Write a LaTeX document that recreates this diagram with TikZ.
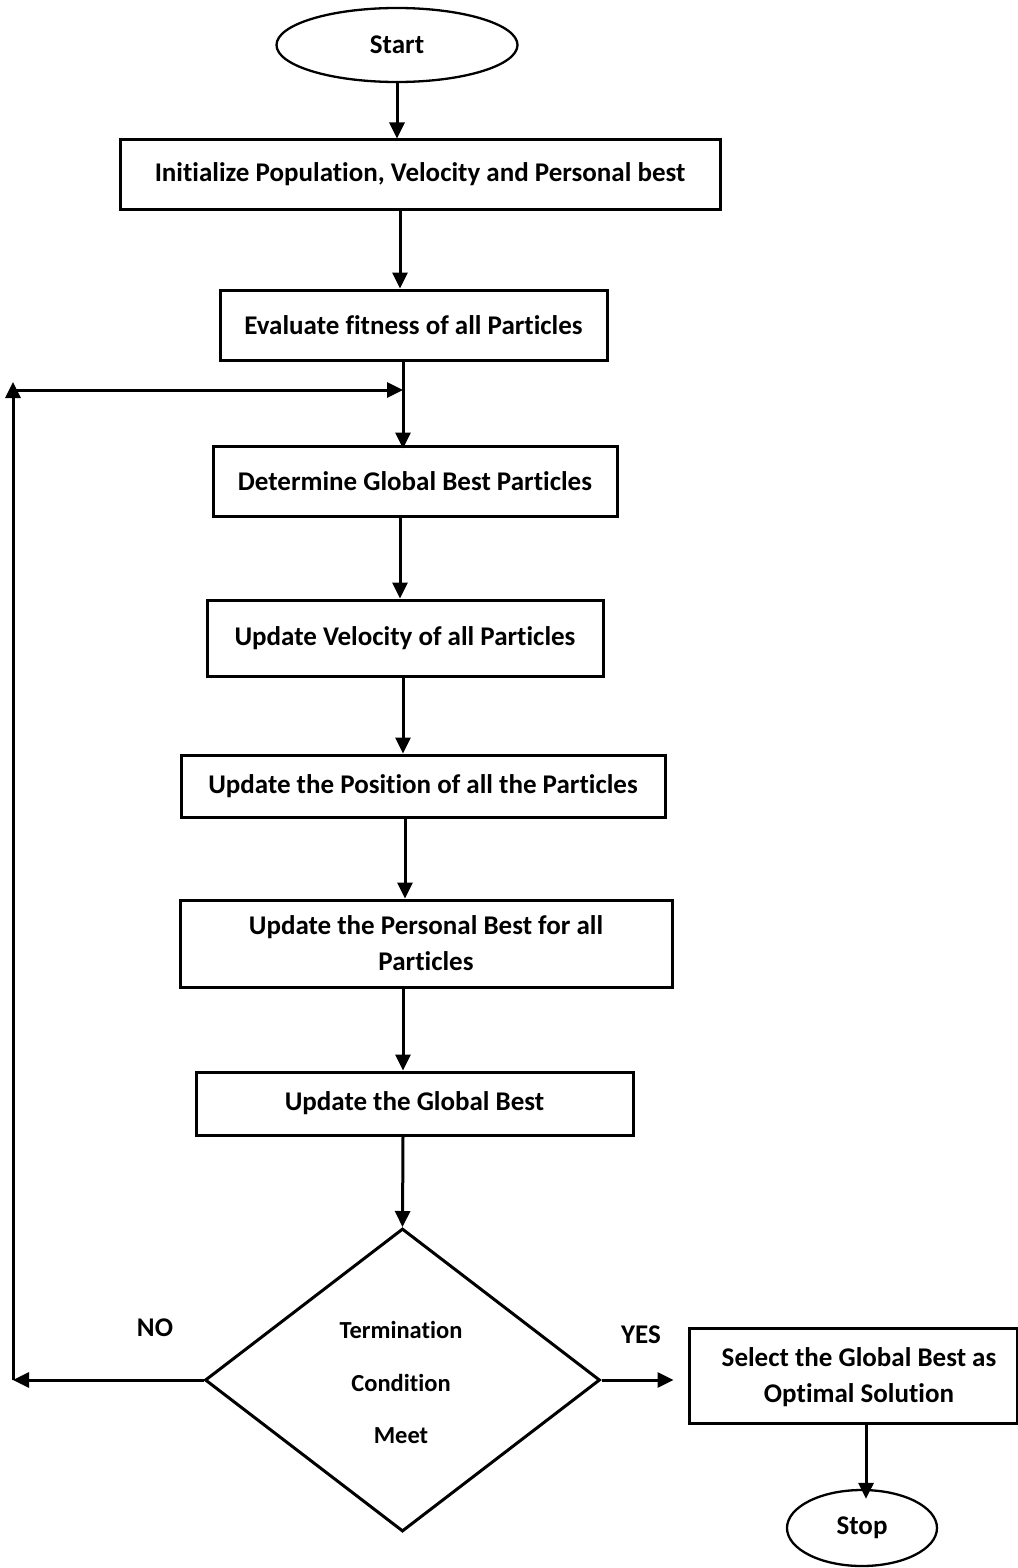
\documentclass[tikz,border=0pt]{standalone}
\usepackage{fontspec}
\setmainfont{Carlito}[Ligatures=NoCommon]
\usetikzlibrary{shapes.geometric,arrows.meta}
\begin{document}
\begin{tikzpicture}[x=1pt,y=-1pt,
  font=\fontsize{27}{33}\selectfont\bfseries,
  stepbox/.style={draw,line width=3pt,inner sep=0pt,align=center},
  terminal/.style={draw,ellipse,line width=2.3pt,inner sep=0pt},
  flow/.style={line width=3pt,-{Triangle[length=16pt,width=15pt]}},
  lbl/.style={inner sep=0pt,align=center}]
\useasboundingbox (0,0) rectangle (1017,1568);

% process boxes
\node[terminal,minimum width=241pt,minimum height=74pt] (start) at (397,45) {Start};
\node[stepbox,minimum width=600pt,minimum height=69pt] (b1) at (420,174.5) {Initialize Population, Velocity and Personal best};
\node[stepbox,minimum width=387pt,minimum height=70pt] (b2) at (413.5,325) {Evaluate fitness of all Particles};
\node[stepbox,minimum width=404pt,minimum height=70pt] (b3) at (415,481) {Determine Global Best Particles};
\node[stepbox,minimum width=396pt,minimum height=76pt] (b4) at (405,638) {Update Velocity of all Particles};
\node[stepbox,minimum width=484pt,minimum height=62pt] (b5) at (423,786) {Update the Position of all the Particles};
\node[stepbox,minimum width=492pt,minimum height=87pt] (b6) at (426,943.5) {Update the Personal Best for all\\[3pt]Particles};
\node[stepbox,minimum width=437pt,minimum height=63pt] (b7) at (414.5,1103.5) {Update the Global Best};
\node[draw,diamond,line width=3pt,inner sep=0pt,minimum width=395pt,minimum height=303pt] (dia) at (402.5,1380) {};
\node[lbl] (t1) at (401,1330) {\fontsize{24.5}{28}\selectfont Termination};
\node[lbl] (t2) at (401,1383) {\fontsize{24.5}{28}\selectfont Condition};
\node[lbl] (t3) at (401,1436) {\fontsize{24.5}{28}\selectfont Meet};
\node[stepbox,minimum width=328pt,minimum height=95pt] (b8) at (853,1375.5) {};
\node[lbl] (b8t) at (859,1377) {Select the Global Best as\\[3pt]Optimal Solution};
\node[terminal,minimum width=150pt,minimum height=76pt] (stop) at (862,1528) {Stop};
\node[lbl] (no) at (155,1328) {NO};
\node[lbl] (yes) at (641,1335) {YES};

% arrow columns
\coordinate (a0) at (397,0);
\coordinate (a1) at (400,0);
\coordinate (a2) at (403,0);
\coordinate (a3) at (400,0);
\coordinate (a4) at (403,0);
\coordinate (a5) at (405,0);
\coordinate (a6) at (403,0);
\coordinate (a7) at (403,0);
\coordinate (a8) at (866,0);

\draw[flow] (start.south -| a0) -- (b1.north -| a0);
\draw[flow] (b1.south -| a1) -- (b2.north -| a1);
\draw[flow] (b2.south -| a2) -- ([yshift=-4pt]b3.north -| a2);
\draw[flow] (b3.south -| a3) -- (b4.north -| a3);
\draw[flow] (b4.south -| a4) -- (b5.north -| a4);
\draw[flow] (b5.south -| a5) -- (b6.north -| a5);
\draw[flow] (b6.south -| a6) -- (b7.north -| a6);
\draw[flow] (b7.south -| a7) -- (dia.north);
\draw[flow] (b8.south -| a8) -- ([yshift=-10pt]stop.north -| a8);

% loop back on the left
\coordinate (lx) at (13,0);
\coordinate (lb) at (dia.west -| lx);
\coordinate (lt) at (13,382);
\coordinate (lc) at (13,390);
\coordinate (lj) at (403,390);
\draw[flow] (dia.west) -- (lb);
\draw[flow] (lb) -- (lt);
\draw[flow] (lc) -- (lj);

% exit on the right
\draw[flow] (dia.east) -- ([xshift=-14pt]b8.west |- dia.east);
\end{tikzpicture}
\end{document}
